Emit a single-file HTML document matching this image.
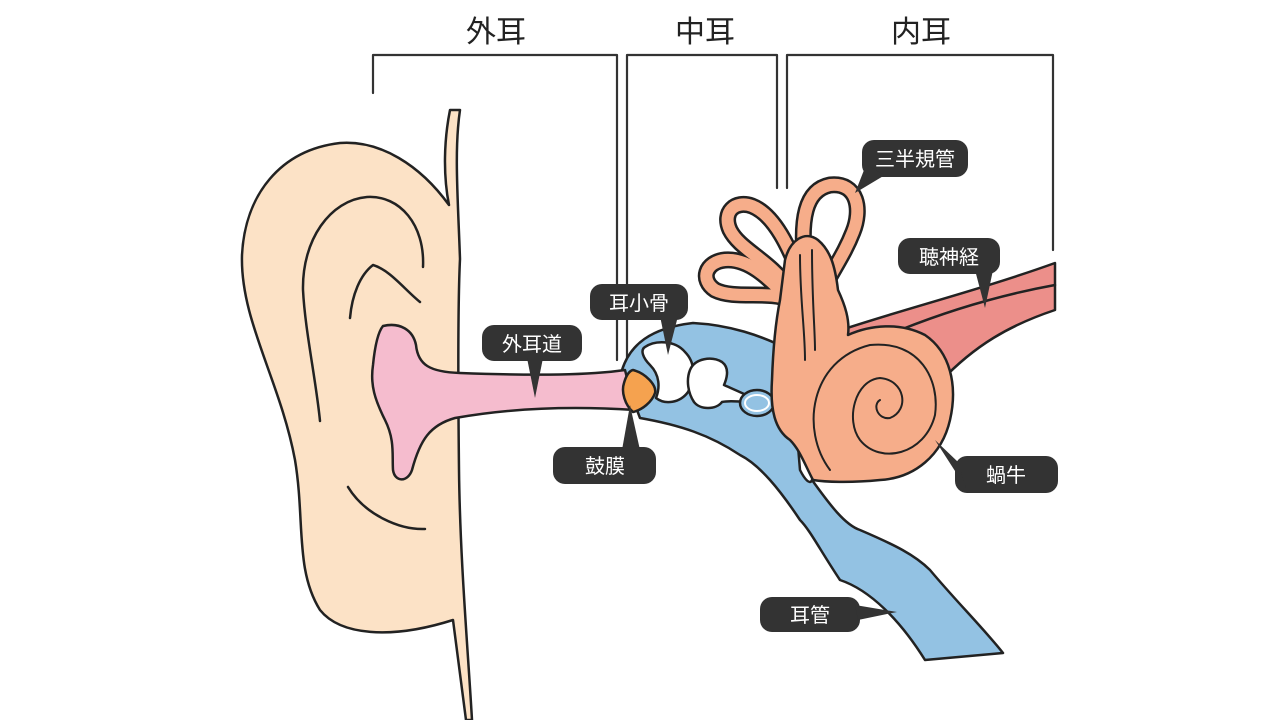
<!DOCTYPE html>
<html><head><meta charset="utf-8"><style>
html,body{margin:0;padding:0;background:#fff;}
svg{display:block;}
text{font-family:"Liberation Sans","Noto Sans CJK JP",sans-serif;}
</style></head><body>
<svg width="1280" height="720" viewBox="0 0 1280 720" xmlns="http://www.w3.org/2000/svg">
<g fill="none" stroke="#333" stroke-width="2.2" stroke-linecap="round" stroke-linejoin="round">
<path d="M373,93 V55 H617 V360"/>
<path d="M627,360 V55 H777 V188"/>
<path d="M787,188 V55 H1053 V250"/>
</g>
<g font-size="30" fill="#222" text-anchor="middle">
<text x="496" y="42">外耳</text>
<text x="705" y="42">中耳</text>
<text x="921" y="42">内耳</text>
</g>
<g stroke="#222" stroke-width="2.5" stroke-linejoin="round" stroke-linecap="round">
<path fill="#FCE2C6" d="M450,110 C444,140 443,175 449,205 C420,165 380,140 340,143 C280,150 245,195 242,255 C240,320 280,380 295,460 C305,520 295,570 320,610 C340,635 390,640 453,620 L466,720 L472,720 C468,650 460,560 459,470 C458,380 458,300 460,259 C458,200 454,150 460,110 Z"/>
<path fill="none" d="M320,421 C316,380 305,330 303,290 C302,240 330,200 367,197 C400,195 425,225 423,267"/>
<path fill="none" d="M350,318 C352,295 360,275 373,265 C390,270 405,290 420,302"/>
<path fill="none" d="M348,487 C365,515 400,530 425,529"/>
<path fill="#93C2E3" d="M622,370 C630,345 650,328 693,323 C730,325 760,335 790,350 L800,470 C805,480 810,485 812,480 C830,505 845,525 860,530 C895,545 915,555 930,570 C955,600 985,630 1003,653 L925,660 C900,620 870,590 840,580 C820,550 810,530 800,520 C780,490 760,465 740,455 C710,435 680,425 640,418 Z"/>
<path fill="#F5BCCE" d="M383,326 C400,322 413,330 416,345 C418,365 430,372 460,373 C540,376 590,375 625,370 L635,410 C560,405 500,410 455,418 C430,425 420,440 412,470 C408,482 395,483 393,470 C392,455 395,440 385,420 C375,400 370,385 373,365 C375,345 378,332 383,326 Z"/>
<path fill="#F5A24F" d="M633,370 C645,373 657,385 655,393 C652,402 642,410 633,412 C625,405 621,392 624,383 C626,376 629,371 633,370 Z"/>
<path fill="#fff" d="M645,347 C655,340 675,340 685,352 C695,362 696,378 688,392 C680,403 665,405 656,398 C660,388 660,375 650,365 C643,358 640,350 645,347 Z"/>
<path fill="#fff" d="M690,370 C695,358 712,356 722,362 C730,368 727,378 724,385 C735,390 745,394 752,398 L750,402 C740,402 730,400 722,402 C716,410 700,410 694,402 C688,393 686,380 690,370 Z"/>
<ellipse cx="757" cy="403" rx="17" ry="13" fill="#93C2E3" stroke="#222"/>
<ellipse cx="757" cy="403" rx="12" ry="8" fill="none" stroke="#fff" stroke-width="2"/>
<path fill="#EC8F8A" d="M835,332 C900,310 980,290 1055,263 L1055,310 C1010,325 975,345 940,382 Z"/>
<path fill="none" d="M900,330 C950,310 1000,295 1055,285"/>
</g>
<g fill="none" stroke-linecap="round">
<g stroke="#222" stroke-width="17">
<path d="M790,300 C770,290 735,300 715,290 C700,280 705,262 725,260 C750,258 770,280 790,300"/>
<path d="M790,290 C770,260 740,250 730,230 C722,212 735,200 752,206 C775,215 790,250 800,275"/>
<path d="M805,265 C800,220 805,190 830,185 C858,182 862,210 853,232 C846,250 838,262 828,280"/>
</g>
<g stroke="#F6AD8A" stroke-width="12">
<path d="M790,300 C770,290 735,300 715,290 C700,280 705,262 725,260 C750,258 770,280 790,300"/>
<path d="M790,290 C770,260 740,250 730,230 C722,212 735,200 752,206 C775,215 790,250 800,275"/>
<path d="M805,265 C800,220 805,190 830,185 C858,182 862,210 853,232 C846,250 838,262 828,280"/>
</g>
</g>
<g stroke="#222" stroke-width="2.5" stroke-linejoin="round" stroke-linecap="round">
<path fill="#F6AD8A" d="M785,260 C790,240 805,230 818,240 C830,250 835,265 838,290 C845,305 850,320 848,335 C870,325 900,322 925,335 C950,352 958,385 950,420 C942,455 915,478 880,480 C850,483 825,482 813,480 C805,465 800,450 790,440 C775,430 770,410 772,380 C773,350 776,320 780,300 Z"/>
<g fill="none" stroke-width="2">
<path d="M800,255 C800,300 805,330 805,360"/>
<path d="M812,250 C812,300 815,330 815,350"/>
<path d="M830,470 C800,430 810,360 870,345 C920,340 940,380 935,415 C925,455 880,465 860,440 C845,420 855,380 880,378 C905,380 910,410 890,418 C878,420 872,405 880,400"/>
</g>
</g>
<g fill="#333">
<rect x="482" y="325" width="100" height="36" rx="12"/><path d="M527,358 L543,358 L535,398 Z"/>
<rect x="590" y="284" width="98" height="36" rx="12"/><path d="M660,316 L678,316 L668,355 Z"/>
<rect x="553" y="447" width="103" height="37" rx="12"/><path d="M622,450 L640,450 L630,405 Z"/>
<rect x="862" y="140" width="106" height="37" rx="12"/><path d="M866,165 L885,175 L855,193 Z"/>
<rect x="898" y="238" width="102" height="36" rx="12"/><path d="M975,270 L993,270 L985,308 Z"/>
<rect x="955" y="456" width="103" height="37" rx="12"/><path d="M958,462 L966,488 L935,440 Z"/>
<rect x="760" y="597" width="100" height="35" rx="12"/><path d="M855,605 L858,620 L897,612 Z"/>
</g>
<g font-size="20" fill="#fff" text-anchor="middle">
<text x="532" y="351">外耳道</text>
<text x="639" y="310">耳小骨</text>
<text x="605" y="473">鼓膜</text>
<text x="915" y="166">三半規管</text>
<text x="949" y="264">聴神経</text>
<text x="1006" y="482">蝸牛</text>
<text x="810" y="622">耳管</text>
</g>
</svg>
</body></html>
